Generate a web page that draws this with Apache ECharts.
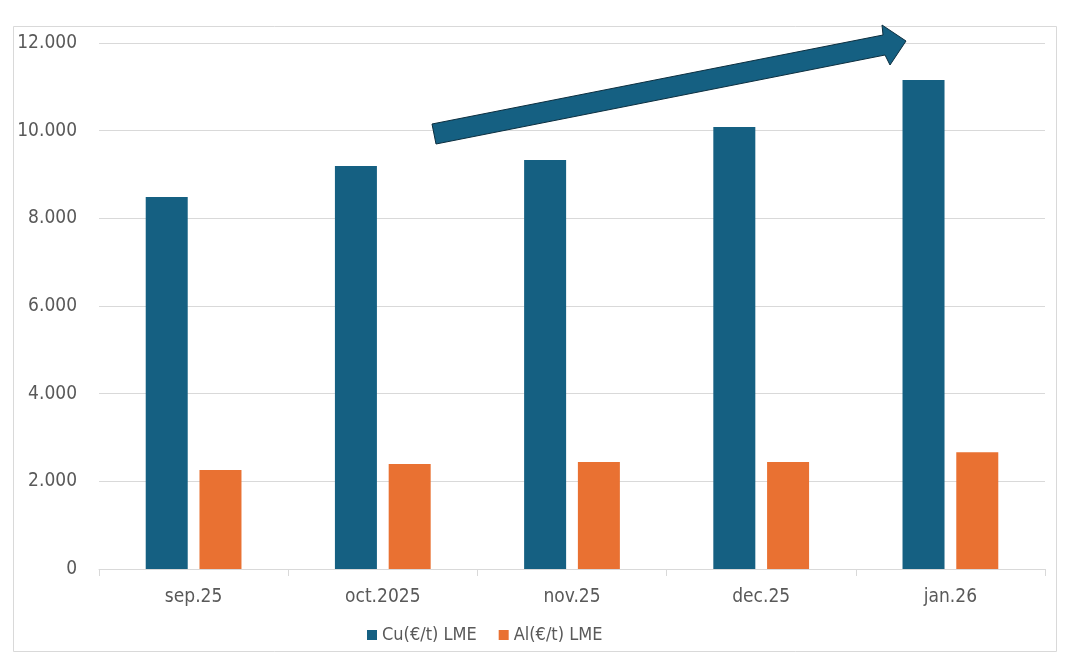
<!DOCTYPE html>
<html>
<head>
<meta charset="utf-8">
<script src="https://cdn.jsdelivr.net/npm/echarts@6/dist/echarts.min.js"></script>
<style>
  html, body { margin: 0; padding: 0; background: #fff; }
  #chart { width: 1067px; height: 660px; }
</style>
</head>
<body>
<div id="chart"></div>
<script>
// data
const months = ['sep.25', 'oct.2025', 'nov.25', 'dec.25', 'jan.26'];
const cuPrices = [8487, 9194, 9331, 10084, 11157];
const alPrices = [2257, 2393, 2439, 2439, 2666];
const seriesNames = ['Cu(€/t) LME', 'Al(€/t) LME'];

const FONT = "'Liberation Sans Narrow', 'DejaVu Sans Condensed', 'Roboto Condensed', sans-serif";
const TEXT = '#595959';
const LINE = '#d9d9d9';

const chart = echarts.init(document.getElementById('chart'));

// trend arrow drawn over the plot (decoration, not data)
const arrowPts = [
  [432, 124], [883, 35], [882, 25], [906, 41],
  [890, 65], [885, 55], [436, 144]
];

const option = {
  backgroundColor: '#fff',
  animation: false,
  textStyle: { fontFamily: FONT },
  grid: { left: 99, right: 22, top: 43, bottom: 91 },
  legend: {
    data: seriesNames,
    left: 362,
    top: 621,
    icon: 'rect',
    itemWidth: 10,
    itemHeight: 10,
    itemGap: 22,
    textStyle: { color: TEXT, fontSize: 18, fontFamily: FONT }
  },
  xAxis: {
    type: 'category',
    data: months,
    axisLine: { lineStyle: { color: LINE, width: 1 } },
    axisTick: { show: true, length: 7, lineStyle: { color: LINE } },
    axisLabel: { color: TEXT, fontSize: 19, margin: 19, fontFamily: FONT }
  },
  yAxis: {
    type: 'value',
    min: 0,
    max: 12000,
    interval: 2000,
    axisLine: { show: false },
    axisTick: { show: false },
    splitLine: { lineStyle: { color: LINE, width: 1 } },
    axisLabel: {
      color: TEXT,
      fontSize: 19,
      margin: 22,
      fontFamily: FONT,
      formatter: v => v === 0 ? '0' : v.toLocaleString('de-DE')
    }
  },
  series: [
    {
      name: seriesNames[0],
      type: 'bar',
      data: cuPrices,
      barWidth: 42,
      barGap: '28%',
      itemStyle: { color: '#156082' }
    },
    {
      name: seriesNames[1],
      type: 'bar',
      data: alPrices,
      barWidth: 42,
      barGap: '28%',
      itemStyle: { color: '#E97132' }
    }
  ],
  graphic: [
    {
      type: 'rect',
      shape: { x: 13.5, y: 26.5, width: 1043, height: 625 },
      style: { fill: 'none', stroke: LINE, lineWidth: 1 },
      silent: true,
      z: -10
    },
    {
      type: 'polygon',
      shape: { points: arrowPts },
      style: { fill: '#156082', stroke: '#0c2f40', lineWidth: 1 },
      silent: true,
      z: 100
    }
  ]
};

chart.setOption(option);
</script>
</body>
</html>
